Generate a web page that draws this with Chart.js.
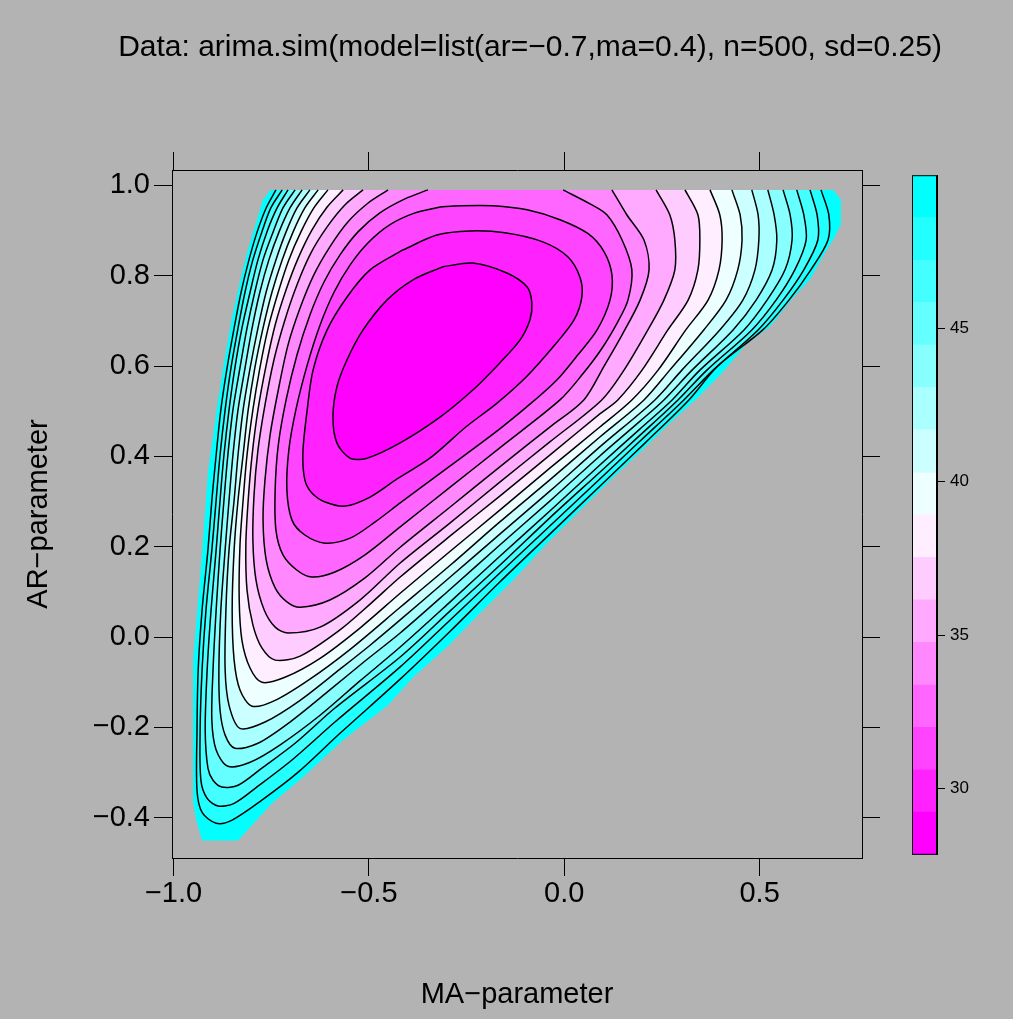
<!DOCTYPE html>
<html>
<head>
<meta charset="utf-8">
<title>ARMA(1,1) surface</title>
<script src="https://cdn.jsdelivr.net/npm/chart.js@4.4.1/dist/chart.umd.min.js"></script>
<style>
  html, body { margin: 0; padding: 0; background: #b3b3b3; }
  #wrap { position: relative; width: 1013px; height: 1019px; }
  #plot { position: absolute; left: 0; top: 0; }
  #key { position: absolute; left: 900px; top: 160px; }
</style>
</head>
<body>
<div id="wrap">
  <canvas id="plot" width="1013" height="1019"></canvas>
  <canvas id="key" width="113" height="710"></canvas>
</div>
<script>
const titleText = 'Data: arima.sim(model=list(ar=\u22120.7,ma=0.4), n=500, sd=0.25)'
const xTitle = 'MA\u2212parameter'
const yTitle = 'AR\u2212parameter'
const maTicks = [-1.0, -0.5, 0.0, 0.5]
const arTicks = [-0.4, -0.2, 0.0, 0.2, 0.4, 0.6, 0.8, 1.0]
const keyTicks = [30, 35, 40, 45]
// band limits of the colour key
const levels = [27.83, 29.22, 30.60, 31.99, 33.37, 34.76, 36.15, 37.53, 38.92, 40.30, 41.69, 43.08, 44.46, 45.85, 47.23, 48.62, 50.00]
const bandColors = ['#ff00ff','#ff22ff','#ff44ff','#ff66ff','#ff88ff','#ffaaff','#ffccff','#ffeeff',
                    '#eeffff','#ccffff','#aaffff','#88ffff','#66ffff','#44ffff','#22ffff','#00ffff']

// contour lines [MA, AR], c1 = innermost level
const c1 = [[-0.310,0.820],[-0.234,0.828],[-0.147,0.806],[-0.095,0.775],[-0.083,0.740],[-0.088,0.702],[-0.113,0.658],[-0.165,0.607],[-0.234,0.547],[-0.318,0.487],[-0.420,0.430],[-0.505,0.396],[-0.548,0.396],[-0.582,0.430],[-0.592,0.487],[-0.582,0.554],[-0.556,0.614],[-0.515,0.680],[-0.454,0.746],[-0.387,0.791],[-0.310,0.820]]
const c2 = [[-0.413,0.857],[-0.326,0.890],[-0.241,0.899],[-0.152,0.895],[-0.055,0.875],[0.009,0.842],[0.040,0.797],[0.045,0.753],[0.025,0.702],[-0.024,0.647],[-0.095,0.578],[-0.172,0.518],[-0.252,0.465],[-0.344,0.396],[-0.428,0.350],[-0.497,0.310],[-0.561,0.290],[-0.612,0.299],[-0.646,0.319],[-0.664,0.348],[-0.669,0.408],[-0.658,0.503],[-0.643,0.591],[-0.607,0.680],[-0.556,0.753],[-0.497,0.813],[-0.413,0.857]]
const c3 = [[-0.318,0.952],[-0.382,0.939],[-0.446,0.913],[-0.502,0.873],[-0.548,0.824],[-0.589,0.764],[-0.625,0.691],[-0.658,0.602],[-0.687,0.503],[-0.705,0.414],[-0.710,0.326],[-0.697,0.259],[-0.664,0.226],[-0.612,0.208],[-0.548,0.219],[-0.484,0.255],[-0.420,0.297],[-0.292,0.379],[-0.165,0.461],[-0.075,0.525],[-0.019,0.569],[0.035,0.625],[0.084,0.680],[0.117,0.746],[0.122,0.802],[0.102,0.853],[0.061,0.893],[-0.011,0.924],[-0.095,0.946],[-0.182,0.955],[-0.267,0.955],[-0.318,0.952]]
const c4 = [[-0.349,0.990],[-0.408,0.970],[-0.472,0.939],[-0.528,0.897],[-0.574,0.846],[-0.615,0.786],[-0.651,0.713],[-0.684,0.625],[-0.712,0.525],[-0.732,0.425],[-0.740,0.326],[-0.738,0.237],[-0.720,0.182],[-0.684,0.148],[-0.646,0.133],[-0.587,0.144],[-0.510,0.182],[-0.420,0.244],[-0.292,0.332],[-0.165,0.419],[-0.011,0.525],[0.045,0.580],[0.094,0.636],[0.137,0.698],[0.163,0.746],[0.173,0.813],[0.148,0.879],[0.109,0.935],[0.066,0.959],[-0.003,0.990]]
const c5 = [[-0.451,0.990],[-0.502,0.961],[-0.554,0.919],[-0.600,0.864],[-0.641,0.802],[-0.676,0.729],[-0.707,0.647],[-0.732,0.547],[-0.753,0.447],[-0.766,0.348],[-0.771,0.259],[-0.763,0.171],[-0.740,0.109],[-0.710,0.078],[-0.676,0.066],[-0.600,0.082],[-0.510,0.131],[-0.420,0.199],[-0.292,0.288],[-0.165,0.377],[-0.037,0.465],[0.050,0.525],[0.102,0.600],[0.148,0.669],[0.194,0.746],[0.217,0.813],[0.204,0.879],[0.160,0.935],[0.122,0.990]]
const c6 = [[-0.515,0.990],[-0.561,0.957],[-0.607,0.908],[-0.648,0.851],[-0.684,0.780],[-0.715,0.702],[-0.743,0.614],[-0.766,0.514],[-0.784,0.414],[-0.794,0.315],[-0.797,0.215],[-0.789,0.126],[-0.768,0.060],[-0.740,0.022],[-0.707,0.009],[-0.625,0.022],[-0.523,0.082],[-0.420,0.164],[-0.292,0.253],[-0.165,0.343],[-0.037,0.432],[0.096,0.525],[0.153,0.591],[0.214,0.680],[0.255,0.746],[0.283,0.813],[0.283,0.879],[0.270,0.935],[0.235,0.990]]
const c7 = [[-0.566,0.990],[-0.607,0.952],[-0.646,0.901],[-0.681,0.839],[-0.712,0.769],[-0.740,0.691],[-0.763,0.602],[-0.784,0.503],[-0.799,0.403],[-0.809,0.303],[-0.815,0.204],[-0.812,0.104],[-0.797,0.027],[-0.774,-0.024],[-0.740,-0.051],[-0.676,-0.042],[-0.574,0.016],[-0.497,0.073],[-0.420,0.133],[-0.292,0.224],[-0.165,0.312],[-0.037,0.403],[0.091,0.494],[0.137,0.525],[0.199,0.591],[0.265,0.680],[0.317,0.746],[0.342,0.813],[0.347,0.879],[0.342,0.935],[0.309,0.990]]
const c8 = [[-0.605,0.990],[-0.641,0.950],[-0.674,0.897],[-0.705,0.835],[-0.732,0.764],[-0.758,0.684],[-0.779,0.596],[-0.797,0.503],[-0.812,0.403],[-0.822,0.303],[-0.830,0.204],[-0.832,0.082],[-0.825,-0.007],[-0.804,-0.069],[-0.774,-0.100],[-0.715,-0.089],[-0.625,-0.047],[-0.523,0.020],[-0.420,0.097],[-0.292,0.190],[-0.165,0.281],[-0.037,0.374],[0.091,0.465],[0.173,0.525],[0.240,0.591],[0.311,0.680],[0.368,0.746],[0.396,0.813],[0.404,0.879],[0.398,0.935],[0.373,0.990]]
const c9 = [[-0.630,0.990],[-0.664,0.950],[-0.694,0.897],[-0.722,0.835],[-0.748,0.764],[-0.771,0.684],[-0.792,0.596],[-0.809,0.503],[-0.822,0.403],[-0.835,0.303],[-0.845,0.193],[-0.850,0.060],[-0.845,-0.051],[-0.830,-0.117],[-0.799,-0.153],[-0.740,-0.140],[-0.651,-0.093],[-0.548,-0.027],[-0.420,0.066],[-0.292,0.159],[-0.165,0.255],[-0.037,0.348],[0.091,0.443],[0.204,0.525],[0.270,0.591],[0.357,0.680],[0.414,0.746],[0.444,0.813],[0.455,0.879],[0.450,0.935],[0.429,0.990]]
const c10 = [[-0.651,0.990],[-0.684,0.950],[-0.712,0.897],[-0.738,0.835],[-0.763,0.764],[-0.784,0.684],[-0.804,0.596],[-0.822,0.503],[-0.835,0.403],[-0.845,0.303],[-0.858,0.193],[-0.866,0.060],[-0.868,-0.073],[-0.858,-0.151],[-0.830,-0.202],[-0.766,-0.188],[-0.676,-0.140],[-0.574,-0.071],[-0.497,-0.018],[-0.420,0.038],[-0.292,0.133],[-0.165,0.228],[-0.037,0.323],[0.091,0.421],[0.232,0.525],[0.301,0.591],[0.398,0.680],[0.457,0.746],[0.488,0.813],[0.498,0.879],[0.496,0.935],[0.480,0.990]]
const c11 = [[-0.671,0.990],[-0.702,0.950],[-0.730,0.897],[-0.756,0.835],[-0.779,0.764],[-0.799,0.684],[-0.817,0.596],[-0.835,0.503],[-0.848,0.403],[-0.858,0.303],[-0.868,0.193],[-0.879,0.060],[-0.884,-0.073],[-0.881,-0.162],[-0.868,-0.217],[-0.843,-0.246],[-0.784,-0.235],[-0.702,-0.188],[-0.600,-0.117],[-0.510,-0.053],[-0.420,0.009],[-0.292,0.106],[-0.165,0.204],[-0.037,0.301],[0.091,0.401],[0.194,0.478],[0.255,0.525],[0.327,0.591],[0.432,0.680],[0.491,0.746],[0.532,0.813],[0.544,0.879],[0.537,0.935],[0.521,0.990]]
const c12 = [[-0.689,0.990],[-0.720,0.950],[-0.745,0.897],[-0.771,0.835],[-0.792,0.764],[-0.812,0.684],[-0.830,0.596],[-0.848,0.503],[-0.861,0.403],[-0.871,0.303],[-0.881,0.193],[-0.891,0.060],[-0.899,-0.073],[-0.902,-0.184],[-0.891,-0.250],[-0.861,-0.286],[-0.804,-0.277],[-0.728,-0.239],[-0.625,-0.173],[-0.523,-0.097],[-0.420,-0.022],[-0.292,0.078],[-0.165,0.179],[-0.037,0.279],[0.091,0.381],[0.194,0.461],[0.276,0.525],[0.347,0.591],[0.460,0.680],[0.519,0.746],[0.565,0.813],[0.583,0.879],[0.578,0.935],[0.560,0.990]]
const c13 = [[-0.707,0.990],[-0.735,0.950],[-0.761,0.897],[-0.784,0.835],[-0.804,0.764],[-0.825,0.684],[-0.843,0.596],[-0.858,0.503],[-0.871,0.403],[-0.881,0.303],[-0.891,0.193],[-0.904,0.060],[-0.914,-0.073],[-0.919,-0.206],[-0.912,-0.290],[-0.899,-0.317],[-0.876,-0.332],[-0.835,-0.328],[-0.774,-0.290],[-0.689,-0.235],[-0.587,-0.157],[-0.420,-0.044],[-0.292,0.058],[-0.165,0.159],[-0.037,0.264],[0.091,0.365],[0.194,0.447],[0.291,0.525],[0.365,0.591],[0.480,0.680],[0.542,0.746],[0.590,0.813],[0.619,0.879],[0.613,0.935],[0.595,0.990]]
const c14 = [[-0.722,0.990],[-0.751,0.950],[-0.774,0.897],[-0.797,0.835],[-0.817,0.764],[-0.835,0.684],[-0.853,0.596],[-0.868,0.503],[-0.881,0.403],[-0.891,0.303],[-0.902,0.193],[-0.917,0.060],[-0.927,-0.073],[-0.932,-0.206],[-0.930,-0.317],[-0.914,-0.357],[-0.886,-0.374],[-0.845,-0.368],[-0.784,-0.330],[-0.697,-0.272],[-0.587,-0.188],[-0.420,-0.066],[-0.292,0.038],[-0.165,0.142],[-0.037,0.246],[0.091,0.350],[0.194,0.434],[0.306,0.525],[0.381,0.591],[0.496,0.680],[0.560,0.746],[0.613,0.813],[0.649,0.879],[0.647,0.935],[0.629,0.990]]
const c15 = [[-0.738,0.990],[-0.763,0.950],[-0.786,0.897],[-0.807,0.835],[-0.827,0.764],[-0.845,0.684],[-0.863,0.596],[-0.879,0.503],[-0.891,0.403],[-0.902,0.303],[-0.912,0.193],[-0.927,0.060],[-0.937,-0.073],[-0.940,-0.206],[-0.940,-0.339],[-0.927,-0.388],[-0.891,-0.412],[-0.850,-0.405],[-0.774,-0.361],[-0.681,-0.299],[-0.574,-0.213],[-0.420,-0.093],[-0.292,0.013],[-0.165,0.122],[-0.037,0.228],[0.091,0.334],[0.207,0.430],[0.319,0.525],[0.393,0.600],[0.508,0.680],[0.575,0.746],[0.631,0.813],[0.675,0.879],[0.677,0.935],[0.657,0.990]]
// edge of the region where the surface stays below the top level (outside is NA)
const edge = [[-0.751,0.990],[-0.771,0.968],[-0.792,0.908],[-0.812,0.851],[-0.830,0.786],[-0.850,0.709],[-0.871,0.607],[-0.889,0.507],[-0.912,0.365],[-0.927,0.188],[-0.937,0.082],[-0.950,-0.051],[-0.950,-0.368],[-0.942,-0.405],[-0.927,-0.450],[-0.835,-0.450],[-0.748,-0.368],[-0.669,-0.310],[-0.566,-0.228],[-0.451,-0.151],[-0.387,-0.089],[-0.300,-0.022],[-0.216,0.053],[-0.131,0.126],[-0.044,0.208],[0.040,0.281],[0.125,0.354],[0.186,0.403],[0.270,0.474],[0.340,0.529],[0.406,0.587],[0.468,0.651],[0.526,0.687],[0.585,0.751],[0.628,0.791],[0.667,0.851],[0.688,0.879],[0.708,0.913],[0.708,0.968],[0.688,0.990]]

const contours = [c1, c2, c3, c4, c5, c6, c7, c8, c9, c10, c11, c12, c13, c14, c15]

Chart.defaults.font.family = "'Liberation Sans', Arial, Helvetica, sans-serif"
Chart.defaults.color = '#000'

const fmt = v => (v < -1e-9 ? '\u2212' : '') + Math.abs(v).toFixed(1)
const toPts = arr => arr.map(p => ({x: p[0], y: p[1]}))

let datasets = []
// black contour lines on top
contours.forEach(c => {
    datasets.push({
        data: toPts(c), showLine: true, fill: false, tension: 0.3,
        borderColor: '#000', borderWidth: 1.5, pointRadius: 0, order: 0
    })
})
// filled bands, painted from the outside in
datasets.push({
    data: toPts(edge), showLine: true, fill: 'shape', tension: 0,
    backgroundColor: bandColors[15], borderColor: 'rgba(0,0,0,0)', borderWidth: 0, pointRadius: 0, order: 50
})
contours.forEach((c, i) => {
    datasets.push({
        data: toPts(c), showLine: true, fill: 'shape', tension: 0.3,
        backgroundColor: bandColors[i], borderColor: 'rgba(0,0,0,0)', borderWidth: 0, pointRadius: 0, order: 35 + i
    })
})

const axisFont = {size: 29}
const tickGrid = {drawOnChartArea: false, drawTicks: true, tickLength: 18, color: '#000', lineWidth: 1}
const frame = {display: true, color: '#000', width: 1}

const mainTitle = {
    id: 'mainTitle',
    afterDraw(chart) {
        let c = chart.ctx
        c.save()
        c.font = "30px 'Liberation Sans', Arial, sans-serif"
        c.fillStyle = '#000'
        c.textAlign = 'center'
        c.textBaseline = 'middle'
        c.fillText(titleText, 530, 48)
        c.restore()
    }
}

new Chart(document.getElementById('plot'), {
    type: 'scatter',
    data: {datasets: datasets},
    options: {
        responsive: false,
        animation: false,
        devicePixelRatio: 1,
        layout: {padding: {top: 152, left: 0, right: 0, bottom: 0}},
        plugins: {legend: {display: false}, tooltip: {enabled: false}},
        scales: {
            x: {
                type: 'linear', position: 'bottom', min: -1.004, max: 0.762,
                afterBuildTicks: s => { s.ticks = maTicks.map(v => ({value: v})) },
                afterFit: s => { s.height = 161 },
                ticks: {callback: fmt, font: {size: 29, lineHeight: 1}, padding: 3, maxRotation: 0, autoSkip: false},
                grid: tickGrid, border: frame,
                title: {display: true, text: xTitle, font: axisFont, padding: {top: 0, bottom: 7}}
            },
            xTop: {
                type: 'linear', axis: 'x', position: 'top', min: -1.004, max: 0.762,
                afterBuildTicks: s => { s.ticks = maTicks.map(v => ({value: v})) },
                afterFit: s => { s.height = 18 },
                ticks: {display: false},
                grid: tickGrid, border: frame
            },
            y: {
                type: 'linear', position: 'left', min: -0.489, max: 1.034,
                afterBuildTicks: s => { s.ticks = arTicks.map(v => ({value: v})) },
                afterFit: s => { s.width = 172 },
                ticks: {callback: fmt, font: {size: 29}, padding: 4, autoSkip: false},
                grid: tickGrid, border: frame,
                title: {display: true, text: yTitle, font: axisFont, padding: {top: 22, bottom: 0}}
            },
            yRight: {
                type: 'linear', axis: 'y', position: 'right', min: -0.489, max: 1.034,
                afterBuildTicks: s => { s.ticks = arTicks.map(v => ({value: v})) },
                afterFit: s => { s.width = 151 },
                ticks: {display: false},
                grid: tickGrid, border: frame
            }
        }
    },
    plugins: [mainTitle]
})

// colour key
const keyFrame = {
    id: 'keyFrame',
    afterDraw(chart) {
        let a = chart.chartArea
        let c = chart.ctx
        c.save()
        c.strokeStyle = '#000'
        c.lineWidth = 1
        c.strokeRect(a.left + 0.5, a.top + 0.5, a.right - a.left - 1, a.bottom - a.top - 1)
        c.restore()
    }
}

new Chart(document.getElementById('key'), {
    type: 'bar',
    data: {
        labels: [''],
        datasets: bandColors.map((col, k) => ({
            data: [[levels[k], levels[k + 1]]],
            backgroundColor: col, borderWidth: 0,
            barPercentage: 1, categoryPercentage: 1, grouped: false
        }))
    },
    options: {
        responsive: false,
        animation: false,
        devicePixelRatio: 1,
        layout: {padding: {left: 12, top: 10, bottom: 12, right: 0}},
        plugins: {legend: {display: false}, tooltip: {enabled: false}},
        scales: {
            x: {display: false},
            y: {
                position: 'right', min: levels[0], max: levels[levels.length - 1],
                afterBuildTicks: s => { s.ticks = keyTicks.map(v => ({value: v})) },
                afterFit: s => { s.width = 76 },
                ticks: {font: {size: 17}, padding: 5},
                grid: {drawOnChartArea: false, drawTicks: true, tickLength: 8, color: '#000'},
                border: frame
            }
        }
    },
    plugins: [keyFrame]
})
</script>
</body>
</html>
